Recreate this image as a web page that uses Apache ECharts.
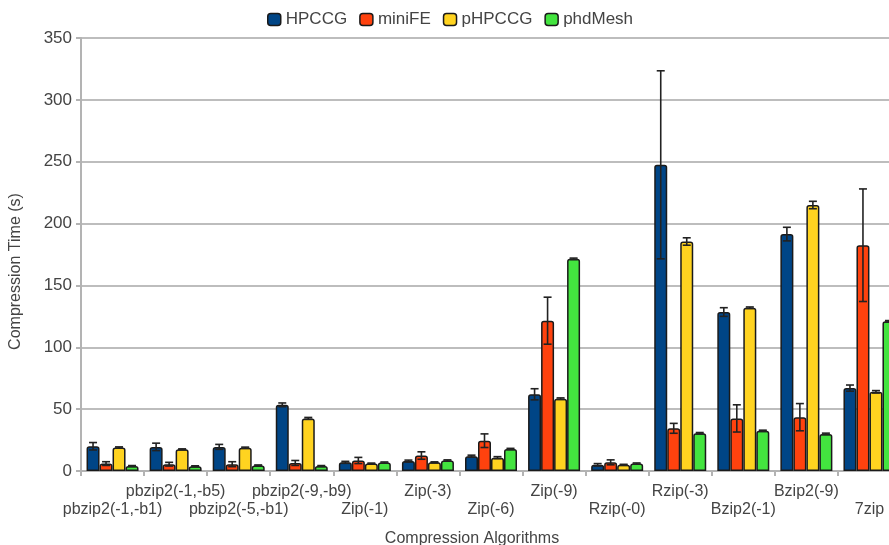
<!DOCTYPE html>
<html>
<head>
<meta charset="utf-8">
<script src="https://cdn.jsdelivr.net/npm/echarts@6/dist/echarts.min.js"></script>
<style>
  html, body { margin: 0; padding: 0; background: #fff; }
  #chart { width: 889px; height: 545px; }
</style>
</head>
<body>
<div id="chart"></div>
<script>
// categories and values
const algorithms = ['pbzip2(-1,-b1)', 'pbzip2(-1,-b5)', 'pbzip2(-5,-b1)', 'pbzip2(-9,-b9)',
  'Zip(-1)', 'Zip(-3)', 'Zip(-6)', 'Zip(-9)', 'Rzip(-0)', 'Rzip(-3)', 'Bzip2(-1)', 'Bzip2(-9)', '7zip'];
const seriesNames = ['HPCCG', 'miniFE', 'pHPCCG', 'phdMesh'];

const hpccg   = [20, 19.5, 19.5, 53.5, 7, 8, 12, 62, 5, 247.5, 128.5, 191.5, 67];
const minife  = [6, 5.5, 5.5, 6.5, 8.5, 12.5, 24.5, 121.5, 7, 34.5, 42.5, 43.5, 182.5];
const phpccg  = [19, 17.5, 18.8, 42.5, 6, 7, 10.8, 58.5, 5, 185.5, 132, 215, 64];
const phdmesh = [4, 3.8, 4.5, 4, 6.8, 8.5, 17.8, 171.5, 6, 30.5, 32.5, 30, 121];

// +/- error for each bar
const errHpccg   = [3, 3, 2, 1.5, 0.8, 0.8, 0.8, 4.5, 1, 76, 3.5, 5.5, 2.5];
const errMinife  = [1.5, 1.5, 2, 2, 2.5, 3, 5.5, 19, 2, 4, 11, 11, 45.5];
const errPhpccg  = [0.5, 0.4, 0.5, 0.8, 0.4, 0.4, 0.8, 0.6, 0.4, 3, 0.6, 3, 1];
const errPhdmesh = [0.4, 0.4, 0.4, 0.4, 0.5, 0.5, 0.5, 0.6, 0.5, 0.6, 0.5, 0.6, 0.6];

const yTicks = [0, 50, 100, 150, 200, 250, 300, 350];

const colors = ['#004586', '#ff420e', '#ffd320', '#43e43f'];
const values = [hpccg, minife, phpccg, phdmesh];
const errors = [errHpccg, errMinife, errPhpccg, errPhdmesh];
const BAR_W = 13;

let dom = document.getElementById('chart');
let myChart = echarts.init(dom, null, { renderer: 'canvas' });

let barSeries = seriesNames.map((name, s) => ({
  name: name,
  type: 'bar',
  data: values[s],
  barWidth: BAR_W,
  barGap: '0%',
  itemStyle: {
    color: colors[s],
    borderColor: '#1a1a1a',
    borderWidth: 1.5,
    borderRadius: [2, 2, 0, 0]
  },
  emphasis: { disabled: true },
  z: 2
}));

let errData = [];
for (let s = 0; s < seriesNames.length; s++) {
  for (let i = 0; i < algorithms.length; i++) {
    errData.push([i, values[s][i], errors[s][i], s]);
  }
}

let errSeries = {
  type: 'custom',
  name: 'error',
  data: errData,
  z: 5,
  silent: true,
  renderItem: function (params, api) {
    let x = api.value(0);
    let v = api.value(1);
    let e = api.value(2);
    let s = api.value(3);
    let hi = api.coord([x, v + e]);
    let lo = api.coord([x, v - e]);
    let cx = hi[0] + (s - 1.5) * BAR_W;
    let cap = 4;
    let style = { stroke: '#222', lineWidth: 1.6 };
    return {
      type: 'group',
      children: [
        { type: 'line', shape: { x1: cx, y1: hi[1], x2: cx, y2: lo[1] }, style: style },
        { type: 'line', shape: { x1: cx - cap, y1: hi[1], x2: cx + cap, y2: hi[1] }, style: style },
        { type: 'line', shape: { x1: cx - cap, y1: lo[1], x2: cx + cap, y2: lo[1] }, style: style }
      ]
    };
  }
};

let option = {
  animation: false,
  textStyle: { fontFamily: 'Liberation Sans, Arial, sans-serif' },
  legend: {
    data: seriesNames,
    left: 262,
    top: 6,
    itemWidth: 13,
    itemHeight: 12,
    itemGap: 12,
    textStyle: { fontSize: 17, color: '#444' },
    itemStyle: { borderColor: '#1a1a1a', borderWidth: 1.5, borderRadius: 2 }
  },
  // the plot runs past the right edge of the picture, as in the original
  grid: { left: 81, top: 38, bottom: 74, width: 820, outerBoundsMode: 'none', containLabel: false },
  xAxis: {
    type: 'category',
    data: algorithms,
    name: 'Compression Algorithms',
    nameLocation: 'middle',
    nameGap: 60,
    nameTextStyle: { fontSize: 16, color: '#444', padding: [0, 38, 0, 0] },
    axisLine: { lineStyle: { color: '#b3b3b3', width: 2 } },
    axisTick: { show: true, length: 5, lineStyle: { color: '#b3b3b3', width: 2 } },
    axisLabel: {
      interval: 0,
      fontSize: 16,
      color: '#444',
      lineHeight: 18,
      margin: 12,
      formatter: function (v, i) { return i % 2 === 0 ? '\n' + v : v; }
    }
  },
  yAxis: {
    type: 'value',
    min: yTicks[0],
    max: yTicks[yTicks.length - 1],
    interval: 50,
    name: 'Compression Time (s)',
    nameLocation: 'middle',
    nameGap: 57,
    nameTextStyle: { fontSize: 16, color: '#444', padding: [0, 34, 0, 0] },
    axisLine: { show: true, lineStyle: { color: '#b3b3b3', width: 2 } },
    axisTick: { show: true, length: 5, lineStyle: { color: '#b3b3b3', width: 2 } },
    axisLabel: { fontSize: 17, color: '#444', margin: 9 },
    splitLine: { lineStyle: { color: '#bdbdbd', width: 2 } }
  },
  series: barSeries.concat([errSeries])
};

myChart.setOption(option);
</script>
</body>
</html>
